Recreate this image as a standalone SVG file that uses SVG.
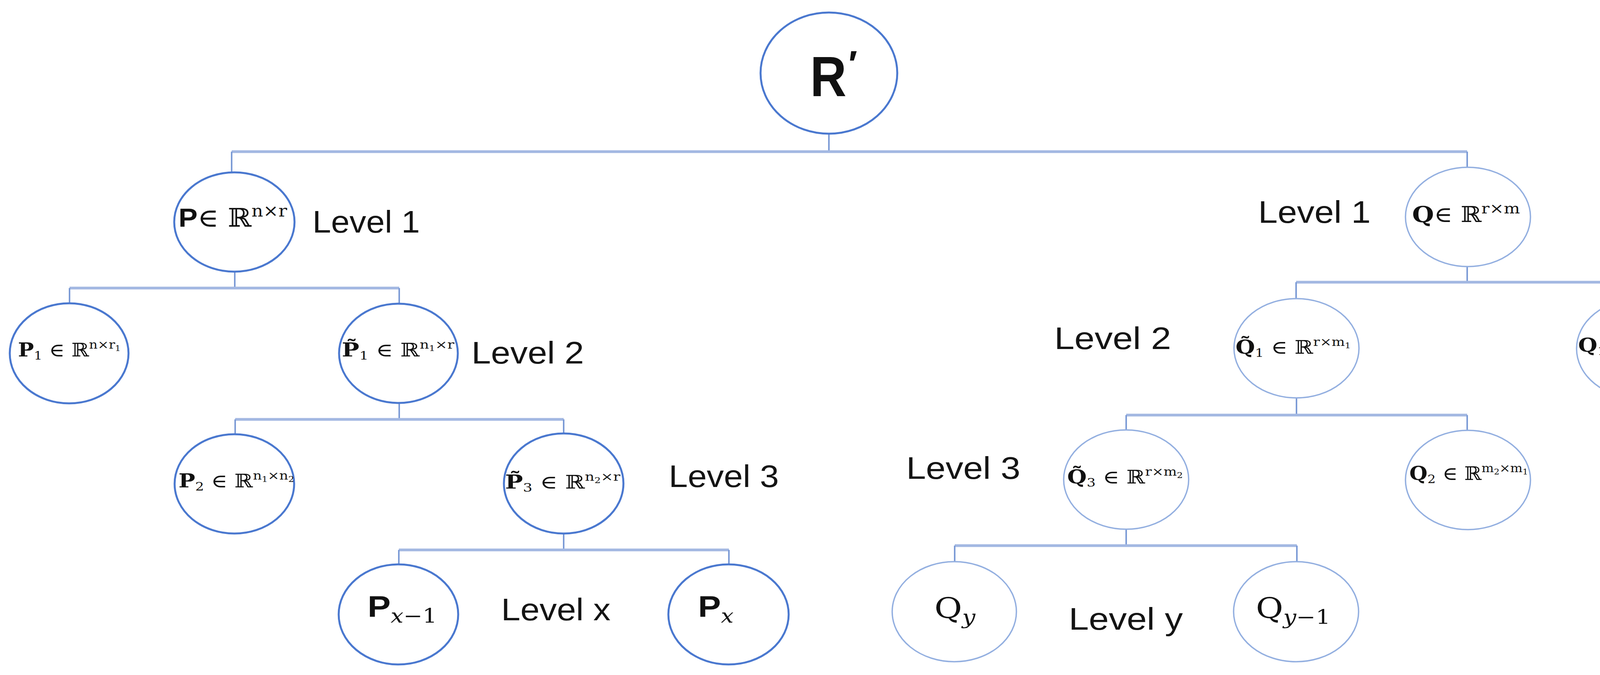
<svg xmlns="http://www.w3.org/2000/svg" width="4380" height="1727" viewBox="0 0 4380 1727">
<style>
.bg{fill:#ffffff}
.nd{fill:#ffffff;stroke:#4a78cf;stroke-width:5}
.nq{fill:#ffffff;stroke:#93afe0;stroke-width:3.5}
.h{stroke:#a3b8e2;stroke-width:7;fill:none}
.v{stroke:#7c9bd6;stroke-width:4;fill:none}
.lv{font-family:"Liberation Sans",Arial,sans-serif;font-size:80px;fill:#141414}
.m{font-family:"DejaVu Serif","Liberation Serif",serif;fill:#111111}
.b{font-weight:bold}
.big{font-family:"Liberation Sans",Arial,sans-serif;font-weight:bold;fill:#111111}
.it{font-style:italic}
</style>
<rect class="bg" x="0" y="0" width="4380" height="1727"/>

<g id="connectors">
  <line class="v" x1="2122" y1="342" x2="2122" y2="388"/>
  <line class="h" x1="593" y1="388" x2="3756" y2="388"/>
  <line class="v" x1="593" y1="388" x2="593" y2="441"/>
  <line class="v" x1="3756" y1="388" x2="3756" y2="428"/>

  <line class="v" x1="601" y1="695" x2="601" y2="737"/>
  <line class="h" x1="178" y1="737" x2="1022" y2="737"/>
  <line class="v" x1="178" y1="737" x2="178" y2="776"/>
  <line class="v" x1="1022" y1="737" x2="1022" y2="777"/>

  <line class="v" x1="1022" y1="1031" x2="1022" y2="1073"/>
  <line class="h" x1="602" y1="1073" x2="1443" y2="1073"/>
  <line class="v" x1="602" y1="1073" x2="602" y2="1112"/>
  <line class="v" x1="1443" y1="1073" x2="1443" y2="1110"/>

  <line class="v" x1="1443" y1="1365" x2="1443" y2="1407"/>
  <line class="h" x1="1021" y1="1407" x2="1866" y2="1407"/>
  <line class="v" x1="1021" y1="1407" x2="1021" y2="1444"/>
  <line class="v" x1="1866" y1="1407" x2="1866" y2="1444"/>

  <line class="v" x1="3756" y1="682" x2="3756" y2="722"/>
  <line class="h" x1="3318" y1="722" x2="4195" y2="722"/>
  <line class="v" x1="3318" y1="722" x2="3318" y2="764"/>
  <line class="v" x1="4195" y1="722" x2="4195" y2="765"/>

  <line class="v" x1="3319" y1="1018" x2="3319" y2="1062"/>
  <line class="h" x1="2883" y1="1062" x2="3756" y2="1062"/>
  <line class="v" x1="2883" y1="1062" x2="2883" y2="1100"/>
  <line class="v" x1="3756" y1="1062" x2="3756" y2="1101"/>

  <line class="v" x1="2883" y1="1354" x2="2883" y2="1396"/>
  <line class="h" x1="2444" y1="1396" x2="3320" y2="1396"/>
  <line class="v" x1="2444" y1="1396" x2="2444" y2="1437"/>
  <line class="v" x1="3320" y1="1396" x2="3320" y2="1437"/>
</g>

<g id="node-R">
  <ellipse class="nd" cx="2122" cy="187" rx="175" ry="155"/>
  <text class="big" x="2074" y="246" font-size="145" textLength="93" lengthAdjust="spacingAndGlyphs">R</text>
  <text class="big" x="2172" y="196" font-size="95">′</text>
</g>

<g id="node-P">
  <ellipse class="nd" cx="600" cy="568" rx="154" ry="127"/>
  <text class="m" x="457" y="580" font-size="66" textLength="278" lengthAdjust="spacingAndGlyphs"><tspan class="b" font-family="Liberation Sans, Arial, sans-serif">P</tspan>∈ ℝ<tspan font-size="42" dy="-26">n×r</tspan></text>
</g>
<text class="lv" x="800" y="595" textLength="275" lengthAdjust="spacingAndGlyphs">Level 1</text>

<g id="node-Q">
  <ellipse class="nq" cx="3758" cy="555" rx="160" ry="127"/>
  <text class="m" x="3615" y="568" font-size="56" textLength="276" lengthAdjust="spacingAndGlyphs"><tspan class="b">Q</tspan>∈ ℝ<tspan font-size="38" dy="-22">r×m</tspan></text>
</g>
<text class="lv" x="3221" y="570" textLength="288" lengthAdjust="spacingAndGlyphs">Level 1</text>

<g id="node-P1">
  <ellipse class="nd" cx="177" cy="904" rx="152" ry="128"/>
  <text class="m" x="46" y="912" font-size="48" textLength="263" lengthAdjust="spacingAndGlyphs"><tspan class="b">P</tspan><tspan font-size="30" dy="8">1</tspan><tspan dy="-8"> ∈ ℝ</tspan><tspan font-size="30" dy="-20">n×r</tspan><tspan font-size="20" dy="6">1</tspan></text>
</g>

<g id="node-Pt1">
  <ellipse class="nd" cx="1020" cy="904" rx="152" ry="127"/>
  <text class="m" x="875" y="912" font-size="48" textLength="288" lengthAdjust="spacingAndGlyphs"><tspan class="b">P̃</tspan><tspan font-size="30" dy="8">1</tspan><tspan dy="-8"> ∈ ℝ</tspan><tspan font-size="30" dy="-20">n</tspan><tspan font-size="20" dy="6">1</tspan><tspan font-size="30" dy="-6">×r</tspan></text>
</g>
<text class="lv" x="1207" y="930" textLength="288" lengthAdjust="spacingAndGlyphs">Level 2</text>

<g id="node-Qt1">
  <ellipse class="nq" cx="3319" cy="891" rx="160" ry="127"/>
  <text class="m" x="3163" y="905" font-size="48" textLength="295" lengthAdjust="spacingAndGlyphs"><tspan class="b">Q̃</tspan><tspan font-size="30" dy="8">1</tspan><tspan dy="-8"> ∈ ℝ</tspan><tspan font-size="30" dy="-20">r×m</tspan><tspan font-size="20" dy="6">1</tspan></text>
</g>
<text class="lv" x="2699" y="893" textLength="299" lengthAdjust="spacingAndGlyphs">Level 2</text>

<g id="node-Q1">
  <ellipse class="nq" cx="4195" cy="892" rx="159" ry="127"/>
  <text class="m" x="4040" y="900" font-size="48" textLength="308" lengthAdjust="spacingAndGlyphs"><tspan class="b">Q</tspan><tspan font-size="30" dy="8">1</tspan><tspan dy="-8"> ∈ ℝ</tspan><tspan font-size="30" dy="-20">m</tspan><tspan font-size="20" dy="6">1</tspan><tspan font-size="30" dy="-6">×m</tspan></text>
</g>

<g id="node-P2">
  <ellipse class="nd" cx="600" cy="1238" rx="153" ry="127"/>
  <text class="m" x="457" y="1247" font-size="48" textLength="296" lengthAdjust="spacingAndGlyphs"><tspan class="b">P</tspan><tspan font-size="30" dy="8">2</tspan><tspan dy="-8"> ∈ ℝ</tspan><tspan font-size="30" dy="-20">n</tspan><tspan font-size="20" dy="6">1</tspan><tspan font-size="30" dy="-6">×n</tspan><tspan font-size="20" dy="6">2</tspan></text>
</g>

<g id="node-Pt3">
  <ellipse class="nd" cx="1443" cy="1237" rx="153" ry="128"/>
  <text class="m" x="1293" y="1250" font-size="48" textLength="295" lengthAdjust="spacingAndGlyphs"><tspan class="b">P̃</tspan><tspan font-size="30" dy="8">3</tspan><tspan dy="-8"> ∈ ℝ</tspan><tspan font-size="30" dy="-20">n</tspan><tspan font-size="20" dy="6">2</tspan><tspan font-size="30" dy="-6">×r</tspan></text>
</g>
<text class="lv" x="1712" y="1246" textLength="282" lengthAdjust="spacingAndGlyphs">Level 3</text>

<g id="node-Qt3">
  <ellipse class="nq" cx="2883" cy="1227" rx="160" ry="127"/>
  <text class="m" x="2732" y="1237" font-size="48" textLength="296" lengthAdjust="spacingAndGlyphs"><tspan class="b">Q̃</tspan><tspan font-size="30" dy="8">3</tspan><tspan dy="-8"> ∈ ℝ</tspan><tspan font-size="30" dy="-20">r×m</tspan><tspan font-size="20" dy="6">2</tspan></text>
</g>
<text class="lv" x="2320" y="1225" textLength="292" lengthAdjust="spacingAndGlyphs">Level 3</text>

<g id="node-Q2">
  <ellipse class="nq" cx="3758" cy="1228" rx="160" ry="127"/>
  <text class="m" x="3608" y="1228" font-size="48" textLength="304" lengthAdjust="spacingAndGlyphs"><tspan class="b">Q</tspan><tspan font-size="30" dy="8">2</tspan><tspan dy="-8"> ∈ ℝ</tspan><tspan font-size="30" dy="-20">m</tspan><tspan font-size="20" dy="6">2</tspan><tspan font-size="30" dy="-6">×m</tspan><tspan font-size="20" dy="6">1</tspan></text>
</g>

<g id="node-Pxm1">
  <ellipse class="nd" cx="1020" cy="1572" rx="153" ry="128"/>
  <text x="941" y="1578" textLength="178" lengthAdjust="spacingAndGlyphs"><tspan class="big" font-size="76">P</tspan><tspan class="m it" font-size="50" dy="15">x</tspan><tspan class="m" font-size="50">−1</tspan></text>
</g>
<text class="lv" x="1283" y="1587" textLength="280" lengthAdjust="spacingAndGlyphs">Level x</text>

<g id="node-Px">
  <ellipse class="nd" cx="1865" cy="1572" rx="154" ry="128"/>
  <text x="1787" y="1578" textLength="91" lengthAdjust="spacingAndGlyphs"><tspan class="big" font-size="76">P</tspan><tspan class="m it" font-size="50" dy="15">x</tspan></text>
</g>

<g id="node-Qy">
  <ellipse class="nq" cx="2443" cy="1565" rx="159" ry="128"/>
  <text x="2392" y="1582" textLength="105" lengthAdjust="spacingAndGlyphs"><tspan class="m" font-size="72">Q</tspan><tspan class="m it" font-size="50" dy="14">y</tspan></text>
</g>
<text class="lv" x="2736" y="1611" textLength="292" lengthAdjust="spacingAndGlyphs">Level y</text>

<g id="node-Qym1">
  <ellipse class="nq" cx="3318" cy="1565" rx="160" ry="128"/>
  <text x="3215" y="1582" textLength="191" lengthAdjust="spacingAndGlyphs"><tspan class="m" font-size="72">Q</tspan><tspan class="m it" font-size="50" dy="14">y</tspan><tspan class="m" font-size="50">−1</tspan></text>
</g>
</svg>
